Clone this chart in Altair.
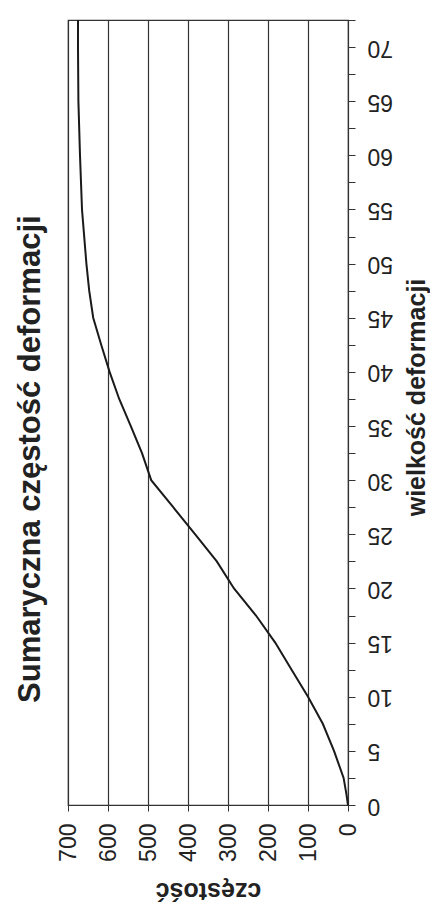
import altair as alt
import pandas as pd

# wielkość deformacji (vertical axis in the rotated scan)
deformacja = [0, 1, 2.5, 5, 7.5, 10, 12.5, 15, 17.5, 20, 22.5, 25, 27.5, 30,
              32.5, 35, 37.5, 40, 42.5, 45, 47.5, 50, 55, 60, 65, 70, 72.5]
# skumulowana częstość
czestosc = [0, 4, 11, 35, 63, 100, 141, 182, 230, 285, 328, 382, 437, 492,
            515, 543, 572, 596, 617, 637, 647, 654, 665, 670, 674, 675, 675]

x_ticks = [0, 100, 200, 300, 400, 500, 600, 700]
y_ticks = [i * 2.5 for i in range(30)]

df = pd.DataFrame({"deformacja": deformacja, "czestosc": czestosc,
                   "kolejnosc": list(range(len(deformacja)))})

FONT = "Liberation Sans"

chart = alt.Chart(df).mark_line(color="#1a1a1a", strokeWidth=2).encode(
    x=alt.X("czestosc:Q",
            scale=alt.Scale(domain=[0, 700], reverse=True, nice=False),
            axis=alt.Axis(title="częstość", orient="bottom", values=x_ticks,
                          labelAngle=270, titleAngle=180, titleBaseline="bottom",
                          labelFontSize=23, titleFontSize=25, titleFontWeight="bold",
                          labelPadding=12, titlePadding=16, tickSize=6,
                          grid=True, gridColor="#333333", gridWidth=1.2,
                          domainColor="#333333", tickColor="#333333",
                          labelColor="#222222", titleColor="#222222")),
    y=alt.Y("deformacja:Q",
            scale=alt.Scale(domain=[0, 72.5], nice=False, zero=True),
            axis=alt.Axis(title="wielkość deformacji", orient="right", values=y_ticks,
                          labelExpr="datum.value % 5 == 0 ? datum.label : ''",
                          labelAngle=180, titleAngle=270, titleBaseline="top",
                          labelFontSize=23, titleFontSize=25, titleFontWeight="bold",
                          labelPadding=12, titlePadding=12, tickSize=7, titleY=377,
                          grid=False, domainColor="#333333", tickColor="#333333",
                          labelColor="#222222", titleColor="#222222")),
    order=alt.Order("kolejnosc:Q"),
).properties(
    width=280,
    height=785,
    title=alt.TitleParams(text="Sumaryczna częstość deformacji", orient="left",
                          anchor="middle", frame="bounds", fontSize=31,
                          fontWeight="bold", font=FONT, color="#222222", offset=10),
    autosize=alt.AutoSizeParams(type="none"),
    padding={"left": 60, "top": 12, "right": 82, "bottom": 100},
).configure(font=FONT).configure_view(stroke="#333333", strokeWidth=1.2)

chart.save("out.html", embed_options={"renderer": "svg", "actions": False})
